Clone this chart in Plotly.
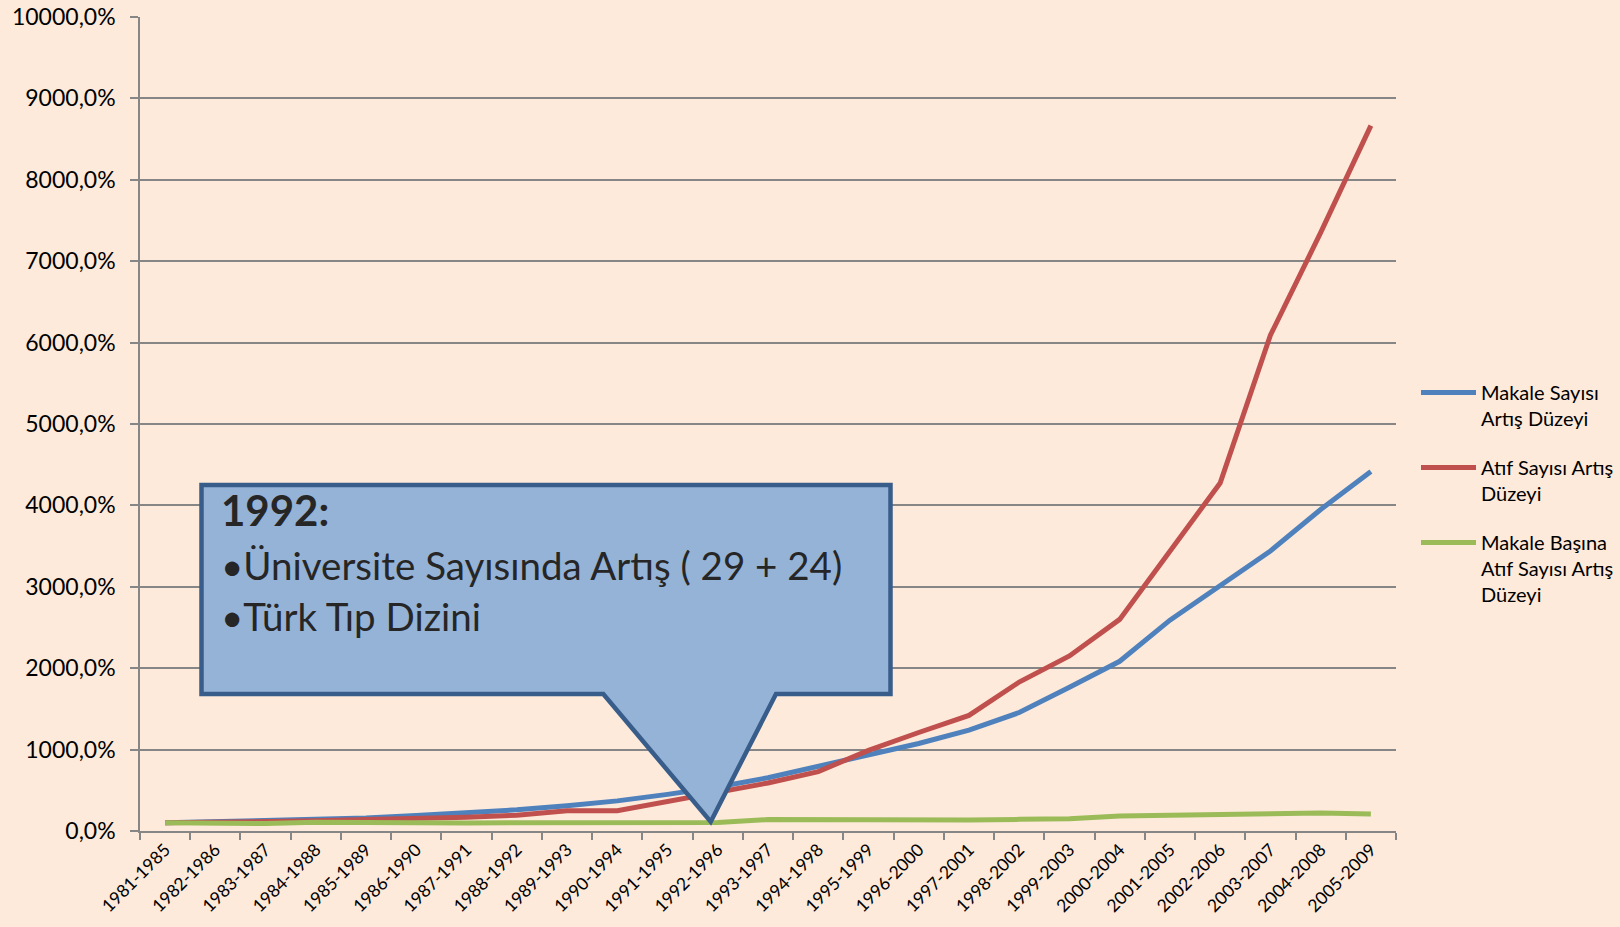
import plotly.graph_objects as go

categories = ["1981-1985", "1982-1986", "1983-1987", "1984-1988", "1985-1989", "1986-1990",
              "1987-1991", "1988-1992", "1989-1993", "1990-1994", "1991-1995", "1992-1996",
              "1993-1997", "1994-1998", "1995-1999", "1996-2000", "1997-2001", "1998-2002",
              "1999-2003", "2000-2004", "2001-2005", "2002-2006", "2003-2007", "2004-2008",
              "2005-2009"]

makale = [100, 112, 125, 140, 160, 190, 220, 260, 310, 370, 450, 540,
          655, 800, 940, 1075, 1240, 1455, 1765, 2085, 2590, 3020, 3440, 3950, 4415]
atif = [100, 105, 112, 125, 140, 150, 170, 195, 250, 250, 360, 470,
        590, 730, 990, 1210, 1420, 1830, 2150, 2600, 3450, 4275, 6090, 7350, 8665]
basina = [100, 97, 92, 108, 100, 95, 97, 102, 104, 102, 96, 105,
          140, 135, 143, 127, 135, 143, 150, 185, 195, 195, 208, 220, 208]

series_names = ["Makale Sayısı<br>Artış Düzeyi",
                "Atıf Sayısı Artış<br>Düzeyi",
                "Makale Başına<br>Atıf Sayısı Artış<br>Düzeyi"]
series_colors = ["#4F81BD", "#C0504D", "#9BBB59"]

y_ticks = list(range(0, 10001, 1000))
y_ticktext = [f"{v},0%" for v in y_ticks]

callout_lines = ["<b>1992:</b>", "•Üniversite Sayısında Artış ( 29 + 24)", "•Türk Tıp Dizini"]

BG = "#FDEADA"
FONT = "Lato"

fig = go.Figure()
for i, (name, vals, col) in enumerate(zip(series_names, [makale, atif, basina], series_colors)):
    fig.add_trace(go.Scatter(x=categories, y=vals, mode="lines", name=name,
                             legendgroup=f"g{i}",
                             line=dict(color=col, width=5)))

# pixel -> paper helpers for the callout
L, R, T, B = 140, 1396, 17, 831
def px(x):
    return (x - L) / (R - L)
def py(y):
    return (B - y) / (B - T)

pts = [(201.5, 485), (890.5, 485), (890.5, 694), (776, 694), (710.7, 821.7),
       (603.3, 694), (201.5, 694)]
path = "M " + " L ".join(f"{px(a):.5f},{py(b):.5f}" for a, b in pts) + " Z"
fig.add_shape(type="path", path=path, xref="paper", yref="paper",
              fillcolor="#95B3D7", line=dict(color="#385D8A", width=4.5), layer="above")

for txt, yc, size in zip(callout_lines, [510, 565, 616], [42, 38.5, 38.5]):
    fig.add_annotation(text=txt, xref="paper", yref="paper", x=px(219), y=py(yc),
                       xanchor="left", yanchor="middle", showarrow=False,
                       font=dict(family=FONT, size=size, color="#262626"))

fig.update_layout(
    width=1620, height=927,
    margin=dict(l=140, r=224, t=17, b=96, autoexpand=False),
    paper_bgcolor=BG, plot_bgcolor=BG,
    font=dict(family=FONT, color="#000000"),
    showlegend=True,
    legend=dict(xref="container", yref="container", x=1416 / 1620, y=1 - 373 / 927,
                xanchor="left", yanchor="top",
                bgcolor="rgba(0,0,0,0)", font=dict(size=20, family=FONT, color="#000000"),
                itemwidth=55, valign="top", tracegroupgap=20),
)
fig.update_xaxes(type="category", range=[-0.5, 24.5], showgrid=False,
                 showline=True, linecolor="#868686", linewidth=1.5,
                 ticks="outside", tickson="boundaries", ticklen=7, tickcolor="#868686",
                 tickwidth=1.5, tickangle=-45, tickfont=dict(size=17.5, family=FONT, color="#000000"))
fig.update_yaxes(range=[0, 10000], tickvals=y_ticks, ticktext=y_ticktext,
                 showgrid=True, gridcolor="#868686", gridwidth=1.5,
                 showline=True, linecolor="#868686", linewidth=1.5,
                 ticks="outside", ticklen=8, tickcolor="#868686", tickwidth=1.5,
                 ticklabelstandoff=10, zeroline=False,
                 tickfont=dict(size=23, family=FONT, color="#000000"))

fig.write_html("out.html", config={"displayModeBar": False},
               post_script="document.body.style.margin='0';document.body.style.overflow='hidden';")
